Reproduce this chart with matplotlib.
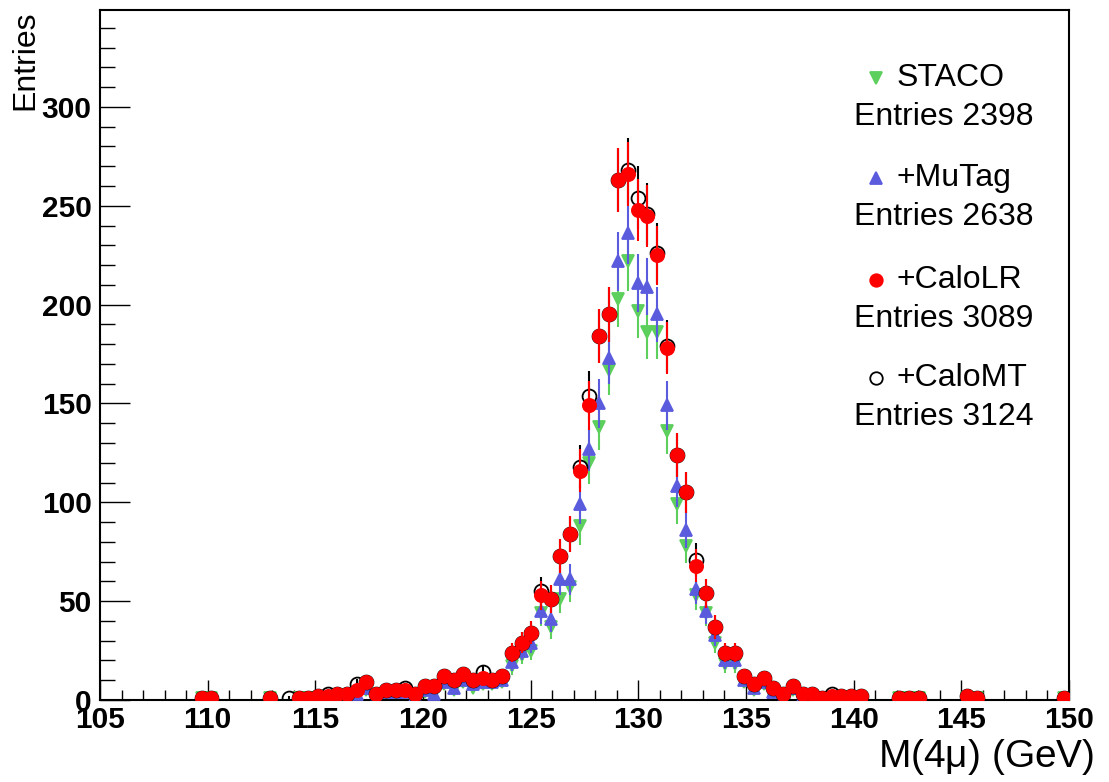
import numpy as np
import matplotlib
matplotlib.use("Agg")
import matplotlib.pyplot as plt
from matplotlib.ticker import MultipleLocator

###### DATA ######
# 100 bins of 0.45 GeV between 105 and 150 GeV
bin_edges = np.linspace(105, 150, 101)

staco = [0, 0, 0, 0, 0, 0, 0, 0, 0, 0,
         1, 1, 0, 0, 0, 0, 0, 1, 0, 0,
         1, 1, 1, 1, 2, 2, 2, 5, 1, 3,
         3, 4, 2, 4, 3, 8, 5, 9, 6, 8,
         8, 9, 17, 23, 25, 44, 37, 51, 57, 88,
         120, 138, 167, 203, 222, 197, 186, 186, 136, 99,
         78, 53, 44, 29, 18, 18, 9, 5, 8, 3,
         1, 5, 2, 2, 1, 1, 1, 1, 1, 0,
         0, 0, 1, 1, 1, 0, 0, 0, 0, 1,
         1, 0, 0, 0, 0, 0, 0, 0, 0, 1]

mutag = [0, 0, 0, 0, 0, 0, 0, 0, 0, 0,
         1, 1, 0, 0, 0, 0, 0, 1, 0, 0,
         1, 1, 1, 2, 2, 2, 3, 6, 1, 4,
         4, 4, 2, 5, 3, 9, 6, 10, 8, 9,
         9, 10, 19, 25, 29, 45, 41, 61, 61, 99,
         127, 150, 173, 222, 236, 211, 209, 195, 149, 108,
         86, 56, 45, 33, 20, 20, 10, 6, 9, 4,
         1, 6, 2, 2, 1, 2, 1, 1, 1, 0,
         0, 0, 1, 1, 1, 0, 0, 0, 0, 1,
         1, 0, 0, 0, 0, 0, 0, 0, 0, 1]

calolr = [0, 0, 0, 0, 0, 0, 0, 0, 0, 0,
          1, 1, 0, 0, 0, 0, 0, 1, 0, 0,
          1, 1, 2, 2, 3, 3, 5, 9, 3, 5,
          5, 5, 3, 7, 7, 12, 10, 13, 10, 11,
          10, 12, 24, 29, 34, 53, 51, 73, 84, 116,
          149, 184, 195, 263, 266, 248, 245, 225, 178, 124,
          105, 68, 54, 37, 24, 24, 12, 8, 11, 6,
          3, 7, 3, 3, 1, 2, 2, 2, 2, 0,
          0, 0, 1, 1, 1, 0, 0, 0, 0, 2,
          1, 0, 0, 0, 0, 0, 0, 0, 0, 1]

calomt = [0, 0, 0, 0, 0, 0, 0, 0, 0, 0,
          1, 1, 0, 0, 0, 0, 0, 1, 0, 1,
          1, 1, 2, 3, 3, 3, 8, 9, 3, 5,
          5, 6, 3, 7, 7, 12, 10, 13, 10, 14,
          10, 12, 24, 29, 34, 55, 51, 73, 84, 118,
          154, 184, 195, 263, 268, 254, 246, 226, 179, 124,
          105, 71, 54, 37, 24, 24, 12, 8, 11, 6,
          3, 7, 3, 3, 1, 3, 2, 2, 2, 0,
          0, 0, 1, 1, 1, 0, 0, 0, 0, 2,
          1, 0, 0, 0, 0, 0, 0, 0, 0, 1]

labels = ["STACO", "+MuTag", "+CaloLR", "+CaloMT"]
entries = [2398, 2638, 3089, 3124]

###### STYLE ######
plt.rcParams['font.family'] = ['Liberation Sans', 'DejaVu Sans']
W, H = 1109, 782

fig = plt.figure(figsize=(W / 100, H / 100), dpi=100)
ax = fig.add_axes([100 / W, 1 - 700 / H, 969 / W, 690 / H])

centers = 0.5 * (bin_edges[:-1] + bin_edges[1:])

styles = [
    (staco, "v", "#5ccf5c", "#5ccf5c", 9),
    (mutag, "^", "#5b5bdd", "#5b5bdd", 9),
    (calomt, "o", "none", "black", 10),
    (calolr, "o", "#ff0000", "#ff0000", 9.5),
]

for k, (counts, marker, face, col, ms) in enumerate(styles):
    c = np.asarray(counts, dtype=float)
    m = c > 0
    ax.errorbar(centers[m], c[m], yerr=np.sqrt(c[m]), fmt=marker, color=col,
                mfc=face, mec=col, ms=ms, mew=1.3, elinewidth=1.5,
                capsize=0, zorder=2 + k)

ax.set_xlim(105, 150)
ax.set_ylim(0, 349)

ax.xaxis.set_major_locator(MultipleLocator(5))
ax.xaxis.set_minor_locator(MultipleLocator(1))
ax.yaxis.set_major_locator(MultipleLocator(50))
ax.yaxis.set_minor_locator(MultipleLocator(10))
ax.tick_params(axis='x', which='major', direction='in', length=14.4, width=1,
               labelsize=21.5, pad=4)
ax.tick_params(axis='x', which='minor', direction='in', length=7.2, width=1)
ax.tick_params(axis='y', which='major', direction='in', length=21.6, width=1,
               labelsize=21.5, pad=6)
ax.tick_params(axis='y', which='minor', direction='in', length=10.8, width=1)
for lab in ax.get_xticklabels() + ax.get_yticklabels():
    lab.set_fontweight('bold')
for sp in ax.spines.values():
    sp.set_linewidth(1.5)

# axis titles, ROOT style
fig.text(1094 / W, 1 - 767 / H, r"M(4$\mathregular{\mu}$) (GeV)", fontsize=28,
         ha='right', va='baseline')
fig.text(25 / W, 1 - 10 / H, "Entries", fontsize=23, rotation=90,
         ha='center', va='top')

###### LEGEND ######
leg_y = [78, 178, 280, 378]
leg_marks = [("v", "#5ccf5c", "#5ccf5c"), ("^", "#5b5bdd", "#5b5bdd"),
             ("o", "#ff0000", "#ff0000"), ("o", "none", "black")]
for lab, n, y, (mk, fc, ec) in zip(labels, entries, leg_y, leg_marks):
    fig.lines.append(plt.Line2D([876 / W], [1 - y / H], marker=mk, ms=9,
                                mfc=fc, mec=ec, mew=1.3, ls='none',
                                transform=fig.transFigure))
    fig.text(897 / W, 1 - y / H, lab, fontsize=23, ha='left', va='center')
    fig.text(944 / W, 1 - (y + 39) / H, f"Entries {n}", fontsize=23,
             ha='center', va='center')

fig.savefig("out.png", dpi=100)
